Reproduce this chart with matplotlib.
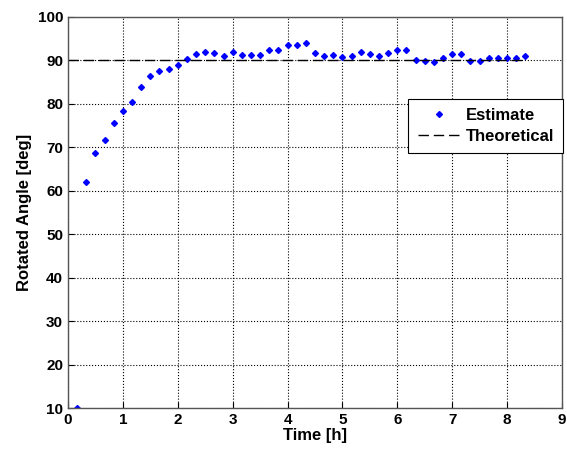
import matplotlib
matplotlib.use("Agg")
import matplotlib.pyplot as plt
import numpy as np

plt.rcParams['font.family'] = ['Liberation Sans', 'DejaVu Sans']
plt.rcParams['font.weight'] = 'bold'

step_index = np.arange(1, 51)
time_h = step_index / 6.0
angle_deg = [10.0, 62.1, 68.6, 71.7, 75.6, 78.3, 80.5, 83.8, 86.4, 87.6,
             88.0, 88.9, 90.4, 91.5, 92.0, 91.6, 91.0, 92.0, 91.3, 91.3,
             91.3, 92.3, 92.5, 93.6, 93.6, 93.9, 91.8, 91.0, 91.3, 90.7,
             91.0, 92.0, 91.5, 91.0, 91.7, 92.3, 92.3, 90.2, 89.9, 89.7,
             90.6, 91.4, 91.4, 89.9, 89.9, 90.6, 90.6, 90.6, 90.6, 91.0]
theoretical = 90.0
theory_t = [0, time_h[-1]]

fig = plt.figure(figsize=(5.67, 4.53), dpi=100)
ax = fig.add_axes([0.12, 0.0993, 0.871, 0.8632])

ax.plot(time_h, angle_deg, linestyle='none', marker='D', markersize=3.0,
        color='#0000ff', label='Estimate')
ax.plot(theory_t, [theoretical, theoretical], linestyle=(0, (7.5, 3.5)), color='black',
        linewidth=1.0, label='Theoretical')

ax.set_xlim(0, 9)
ax.set_ylim(10, 100)
ax.set_xticks(range(0, 10))
ax.set_yticks(range(10, 101, 10))
ax.grid(True, linestyle=':', color='black', linewidth=0.8)
ax.tick_params(direction='in', labelsize=11, length=4)
for lbl in ax.get_xticklabels() + ax.get_yticklabels():
    lbl.set_fontweight('bold')
for s in ax.spines.values():
    s.set_color('#555555')
    s.set_linewidth(1.0)

ax.set_xlabel('Time [h]', fontsize=12, fontweight='bold', labelpad=1)
ax.set_ylabel('Rotated Angle [deg]', fontsize=12, fontweight='bold', labelpad=4)

leg = ax.legend(loc='upper right', bbox_to_anchor=(1.003, 0.79), fancybox=False,
                framealpha=1, edgecolor='black', fontsize=12, borderaxespad=0,
                handlelength=2.6, handletextpad=0.3, borderpad=0.55,
                labelspacing=0.35)
leg.get_frame().set_linewidth(0.8)

fig.savefig('out.png', dpi=100)
